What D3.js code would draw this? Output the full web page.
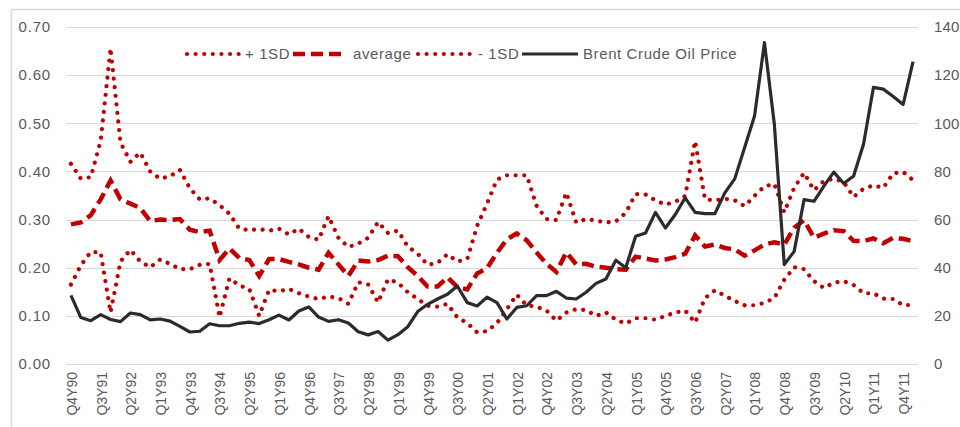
<!DOCTYPE html>
<html>
<head>
<meta charset="utf-8">
<script src="https://cdn.jsdelivr.net/npm/d3@7"></script>
<style>
  html, body { margin: 0; padding: 0; background: #fff; }
  svg { display: block; font-family: "Liberation Sans", Arial, sans-serif; }
</style>
</head>
<body>
<svg id="chart" width="960" height="427"></svg>
<script>
const quarters = [
  "Q4Y90",
  "Q1Y91","Q2Y91","Q3Y91","Q4Y91",
  "Q1Y92","Q2Y92","Q3Y92","Q4Y92",
  "Q1Y93","Q2Y93","Q3Y93","Q4Y93",
  "Q1Y94","Q2Y94","Q3Y94","Q4Y94",
  "Q1Y95","Q2Y95","Q3Y95","Q4Y95",
  "Q1Y96","Q2Y96","Q3Y96","Q4Y96",
  "Q1Y97","Q2Y97","Q3Y97","Q4Y97",
  "Q1Y98","Q2Y98","Q3Y98","Q4Y98",
  "Q1Y99","Q2Y99","Q3Y99","Q4Y99",
  "Q1Y00","Q2Y00","Q3Y00","Q4Y00",
  "Q1Y01","Q2Y01","Q3Y01","Q4Y01",
  "Q1Y02","Q2Y02","Q3Y02","Q4Y02",
  "Q1Y03","Q2Y03","Q3Y03","Q4Y03",
  "Q1Y04","Q2Y04","Q3Y04","Q4Y04",
  "Q1Y05","Q2Y05","Q3Y05","Q4Y05",
  "Q1Y06","Q2Y06","Q3Y06","Q4Y06",
  "Q1Y07","Q2Y07","Q3Y07","Q4Y07",
  "Q1Y08","Q2Y08","Q3Y08","Q4Y08",
  "Q1Y09","Q2Y09","Q3Y09","Q4Y09",
  "Q1Y10","Q2Y10","Q3Y10","Q4Y10",
  "Q1Y11","Q2Y11","Q3Y11","Q4Y11",
  "Q1Y12"
];

const plusSD = [
  0.416, 0.385, 0.388, 0.464, 0.656, 0.460, 0.420, 0.439, 0.400, 0.385,
  0.390, 0.403, 0.365, 0.342, 0.344, 0.330, 0.312, 0.281, 0.278, 0.280,
  0.277, 0.281, 0.269, 0.281, 0.264, 0.258, 0.307, 0.262, 0.243, 0.250,
  0.262, 0.295, 0.272, 0.277, 0.244, 0.229, 0.206, 0.210, 0.228, 0.213,
  0.218, 0.287, 0.333, 0.383, 0.392, 0.392, 0.392, 0.329, 0.301, 0.299,
  0.356, 0.294, 0.301, 0.298, 0.294, 0.296, 0.314, 0.353, 0.352, 0.340,
  0.331, 0.337, 0.349, 0.463, 0.342, 0.340, 0.343, 0.340, 0.328, 0.349,
  0.369, 0.374, 0.315, 0.366, 0.397, 0.361, 0.380, 0.385, 0.378, 0.347,
  0.364, 0.371, 0.366, 0.396, 0.399, 0.382
];

const average = [
  0.290, 0.294, 0.309, 0.342, 0.381, 0.342, 0.333, 0.324, 0.297, 0.300,
  0.299, 0.301, 0.279, 0.274, 0.277, 0.216, 0.240, 0.220, 0.216, 0.183,
  0.218, 0.218, 0.212, 0.207, 0.200, 0.196, 0.231, 0.207, 0.183, 0.215,
  0.213, 0.216, 0.225, 0.224, 0.201, 0.183, 0.161, 0.161, 0.180, 0.160,
  0.155, 0.188, 0.199, 0.231, 0.259, 0.271, 0.257, 0.232, 0.208, 0.191,
  0.232, 0.207, 0.208, 0.202, 0.200, 0.197, 0.196, 0.223, 0.219, 0.215,
  0.217, 0.222, 0.229, 0.267, 0.244, 0.248, 0.241, 0.238, 0.225, 0.236,
  0.248, 0.253, 0.248, 0.283, 0.299, 0.262, 0.271, 0.278, 0.276, 0.256,
  0.255, 0.261, 0.251, 0.262, 0.260, 0.255
];

const minusSD = [
  0.165, 0.205, 0.233, 0.232, 0.107, 0.213, 0.237, 0.213, 0.201, 0.217,
  0.208, 0.197, 0.197, 0.206, 0.208, 0.097, 0.178, 0.163, 0.156, 0.100,
  0.154, 0.151, 0.156, 0.147, 0.140, 0.135, 0.140, 0.137, 0.125, 0.170,
  0.165, 0.128, 0.176, 0.169, 0.149, 0.135, 0.121, 0.119, 0.125, 0.097,
  0.085, 0.066, 0.068, 0.085, 0.114, 0.144, 0.122, 0.119, 0.111, 0.090,
  0.107, 0.114, 0.112, 0.100, 0.107, 0.092, 0.084, 0.095, 0.095, 0.092,
  0.100, 0.107, 0.111, 0.086, 0.137, 0.153, 0.142, 0.131, 0.122, 0.122,
  0.127, 0.137, 0.175, 0.201, 0.197, 0.172, 0.158, 0.169, 0.172, 0.164,
  0.147, 0.147, 0.136, 0.135, 0.122, 0.123
];

const brent = [
  28.5, 19.3, 18.0, 20.5, 18.5, 17.6, 21.2, 20.5, 18.3, 18.7,
  17.8, 15.6, 13.3, 13.6, 16.7, 15.9, 15.9, 16.9, 17.4, 16.8,
  18.4, 20.3, 18.3, 22.0, 23.7, 19.5, 17.7, 18.4, 17.0, 13.4,
  12.1, 13.5, 9.9, 12.2, 15.5, 21.8, 24.8, 27.0, 29.0, 32.4,
  25.5, 24.1, 27.8, 25.5, 18.7, 23.5, 24.2, 28.4, 28.4, 30.2,
  27.4, 27.0, 29.8, 33.5, 35.3, 43.1, 40.0, 53.1, 54.4, 63.0,
  56.5, 62.1, 69.0, 63.0, 62.5, 62.5, 71.1, 76.9, 89.9, 103.0,
  133.5, 99.6, 41.3, 46.8, 68.3, 67.6, 73.9, 79.7, 75.0, 78.1,
  91.3, 114.9, 114.2, 111.1, 107.8, 125.6
];

const leftTicks = [0, 0.1, 0.2, 0.3, 0.4, 0.5, 0.6, 0.7];
const rightTicks = [0, 20, 40, 60, 80, 100, 120, 140];
const legendLabels = ["+ 1SD", "average", "- 1SD", "Brent Crude Oil Price"];

const RED = "#c00000";
const DARK = "#2b2b2b";
const TXT = "#595959";
const GRID = "#d9d9d9";

const svg = d3.select("#chart");

// outer chart border (cropped by the viewport like the reference)
svg.append("rect")
  .attr("x", 11.5).attr("y", 9.5)
  .attr("width", 980).attr("height", 440)
  .attr("fill", "none").attr("stroke", GRID).attr("stroke-width", 1.5);

const plotL = 66, plotR = 918, plotT = 27, plotB = 364;

const x = d3.scaleBand().domain(quarters).range([plotL, plotR]).padding(0);
const cx = d => x(d) + x.bandwidth() / 2;
const yL = d3.scaleLinear().domain([0, 0.7]).range([plotB, plotT]);
const yR = d3.scaleLinear().domain([0, 140]).range([plotB, plotT]);

// gridlines
svg.append("g").selectAll("line").data(leftTicks).join("line")
  .attr("x1", plotL).attr("x2", plotR)
  .attr("y1", d => Math.round(yL(d)) + 0.5).attr("y2", d => Math.round(yL(d)) + 0.5)
  .attr("stroke", GRID).attr("stroke-width", 1.2);

// left axis
const axL = d3.axisLeft(yL).tickValues(leftTicks).tickFormat(d3.format(".2f")).tickSize(0).tickPadding(15);
const gL = svg.append("g").attr("transform", `translate(${plotL},0)`).call(axL);
gL.select(".domain").remove();
gL.selectAll("text").attr("fill", TXT).style("font-size", "15px").style("letter-spacing", "0.8px");

// right axis
const axR = d3.axisRight(yR).tickValues(rightTicks).tickFormat(d3.format("d")).tickSize(0).tickPadding(16);
const gR = svg.append("g").attr("transform", `translate(${plotR},0)`).call(axR);
gR.select(".domain").remove();
gR.selectAll("text").attr("fill", TXT).style("font-size", "15px").style("letter-spacing", "0.2px");

// bottom axis (category labels every 3 quarters, rotated)
const shown = quarters.filter((q, i) => i % 3 === 0);
const axB = d3.axisBottom(x).tickValues(shown).tickSize(0).tickPadding(0);
const gB = svg.append("g").attr("transform", `translate(0,${plotB})`).call(axB);
gB.select(".domain").remove();
gB.selectAll("text")
  .attr("fill", TXT).style("font-size", "14px")
  .attr("text-anchor", "end")
  .attr("transform", "rotate(-90)")
  .attr("x", -8).attr("y", 1).attr("dy", "0.35em");

// series
const lineL = vals => d3.line().x((d, i) => cx(quarters[i])).y(d => yL(d))(vals);
const lineR = vals => d3.line().x((d, i) => cx(quarters[i])).y(d => yR(d))(vals);

const dotStyle = sel => sel.attr("fill", "none").attr("stroke", RED).attr("stroke-width", 4.2)
  .attr("stroke-linecap", "round").attr("stroke-dasharray", "0.01,8.6");
const dashStyle = sel => sel.attr("fill", "none").attr("stroke", RED).attr("stroke-width", 4.5)
  .attr("stroke-linecap", "butt").attr("stroke-dasharray", "12,6");
const solidStyle = sel => sel.attr("fill", "none").attr("stroke", DARK).attr("stroke-width", 3.2)
  .attr("stroke-linejoin", "round");

svg.append("path").attr("d", lineL(plusSD)).call(dotStyle);
svg.append("path").attr("d", lineL(average)).call(dashStyle);
svg.append("path").attr("d", lineL(minusSD)).call(dotStyle);
svg.append("path").attr("d", lineR(brent)).call(solidStyle);

// legend
const legY = 54;
const legItems = [
  { label: legendLabels[0], x1: 187, x2: 240, tx: 245, style: dotStyle },
  { label: legendLabels[1], x1: 293, x2: 347, tx: 353, style: dashStyle },
  { label: legendLabels[2], x1: 418, x2: 473, tx: 478, style: dotStyle },
  { label: legendLabels[3], x1: 522, x2: 578, tx: 583, style: solidStyle }
];
const leg = svg.append("g");
legItems.forEach(it => {
  leg.append("path").attr("d", `M${it.x1},${legY}H${it.x2}`).call(it.style);
  leg.append("text").attr("x", it.tx).attr("y", legY).attr("dy", "0.36em")
    .attr("fill", TXT).style("font-size", "15px").style("letter-spacing", "0.6px")
    .text(it.label);
});
</script>
</body>
</html>
